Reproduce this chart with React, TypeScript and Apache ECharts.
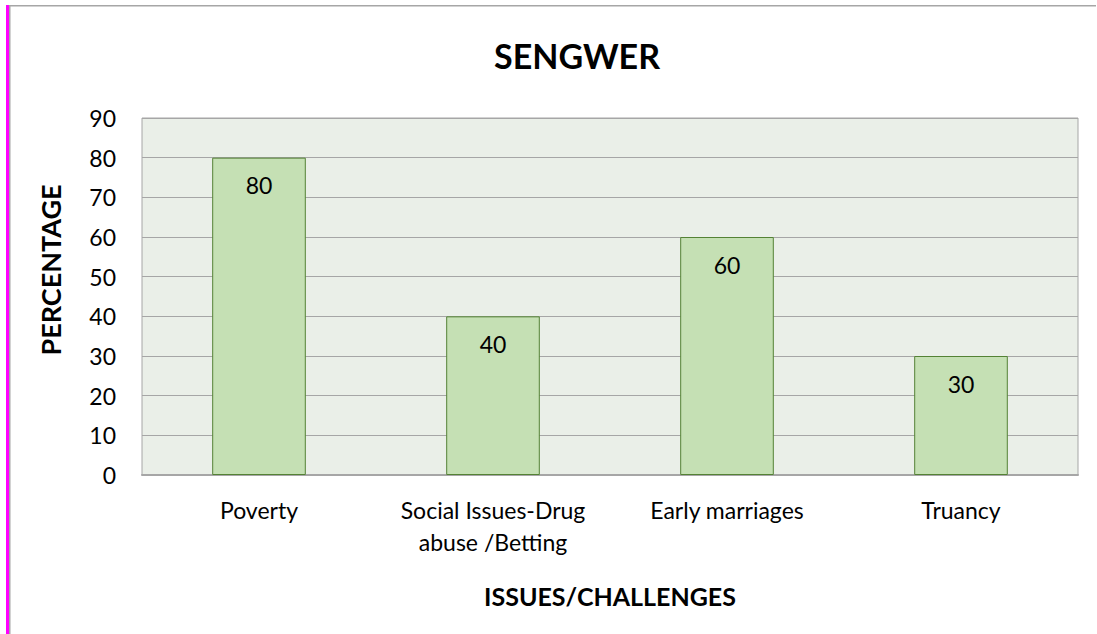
import React, { useEffect, useRef } from "react";
import * as echarts from "echarts";

const categories = ["Poverty", "Social Issues-Drug\nabuse /Betting", "Early marriages", "Truancy"];
const values = [80, 40, 60, 30];
const titleText = "SENGWER";
const yTitle = "PERCENTAGE";
const xTitle = "ISSUES/CHALLENGES";

const FONT = "Lato, 'Open Sans', sans-serif";

export default function App() {
  const ref = useRef<HTMLDivElement>(null);
  useEffect(() => {
    document.body.style.margin = "0";
    const chart = echarts.init(ref.current!, null, { renderer: "svg" });
    chart.setOption({
      animation: false,
      backgroundColor: "#ffffff",
      title: {
        text: titleText,
        left: 572,
        textAlign: "center",
        top: 33,
        textStyle: { fontFamily: FONT, fontWeight: "bold", fontSize: 34, color: "#000" },
      },
      grid: { left: 142, top: 118, right: 19, bottom: 159, backgroundColor: "#EAEFE8", show: true, borderColor: "#A6A6A6", borderWidth: 1 },
      xAxis: {
        type: "category",
        data: categories,
        axisLine: { show: true, lineStyle: { color: "#A6A6A6", width: 2 } },
        axisTick: { show: false },
        axisLabel: { interval: 0, fontFamily: FONT, fontSize: 23, color: "#000", margin: 19, lineHeight: 32 },
        name: xTitle,
        nameLocation: "middle",
        nameGap: 108,
        nameTextStyle: { fontFamily: FONT, fontWeight: "bold", fontSize: 25, color: "#000" },
      },
      yAxis: {
        type: "value",
        min: 0,
        max: 90,
        interval: 10,
        axisLine: { show: false },
        axisTick: { show: false },
        splitLine: { lineStyle: { color: "#A6A6A6", width: 1 } },
        axisLabel: { fontFamily: FONT, fontSize: 23, color: "#000", margin: 26 },
      },
      series: [
        {
          type: "bar",
          data: values,
          barWidth: "40%",
          itemStyle: { color: "#C5E0B4", borderColor: "#548235", borderWidth: 1 },
          label: {
            show: true,
            position: "insideTop",
            distance: 16,
            fontFamily: FONT,
            fontSize: 23,
            color: "#000",
          },
        },
      ],
      graphic: [
        { type: "rect", shape: { x: 6, y: 5, width: 3, height: 629 }, style: { fill: "#FF00FF" } },
        { type: "rect", shape: { x: 9, y: 5, width: 1.5, height: 629 }, style: { fill: "#A6A6A6" } },
        { type: "rect", shape: { x: 9, y: 5, width: 1087, height: 1.5 }, style: { fill: "#A6A6A6" } },
        {
          type: "text",
          x: 50,
          y: 270,
          rotation: Math.PI / 2,
          style: {
            text: yTitle,
            fontFamily: FONT,
            fontWeight: "bold",
            fontSize: 27,
            fill: "#000",
            align: "center",
            verticalAlign: "middle",
          },
        },
      ],
    });
    return () => chart.dispose();
  }, []);
  return <div ref={ref} style={{ width: 1097, height: 634 }} />;
}
